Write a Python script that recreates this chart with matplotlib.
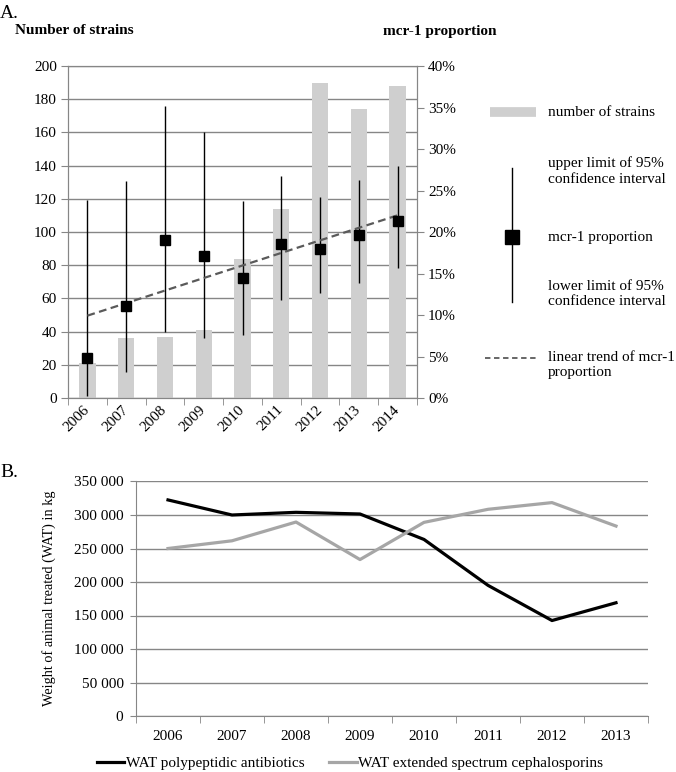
import numpy as np
import matplotlib
matplotlib.use("Agg")
import matplotlib.pyplot as plt
from matplotlib.ticker import FuncFormatter, FixedLocator
from matplotlib.transforms import ScaledTranslation

plt.rcParams['font.family'] = ['Liberation Serif', 'DejaVu Serif']
plt.rcParams['font.size'] = 11

# ---- Panel A data ----
years_a = ['2006', '2007', '2008', '2009', '2010', '2011', '2012', '2013', '2014']
strains = [21, 36, 37, 41, 84, 114, 190, 174, 188]
prop = [4.8, 11.1, 19.0, 17.1, 14.4, 18.5, 17.9, 19.6, 21.3]      # %
ci_upper = [23.8, 26.1, 35.2, 32.0, 23.7, 26.8, 24.2, 26.3, 27.9]  # %
ci_lower = [0.2, 3.1, 8.0, 7.2, 7.6, 11.8, 12.7, 13.9, 15.7]       # %

# ---- Panel B data ----
years_b = ['2006', '2007', '2008', '2009', '2010', '2011', '2012', '2013']
wat_poly = [322500, 300000, 304000, 301500, 263500, 195000, 142500, 169000]
wat_ceph = [250000, 261500, 289500, 233500, 289000, 308500, 318500, 283500]

W, H = 676, 772
fig = plt.figure(figsize=(W / 100, H / 100), dpi=100)

def fx(px):
    return px / W

def fy(py):
    return 1 - py / H

axis_gray = '#868686'
bar_gray = '#cfcfcf'

# ================= Panel A =================
ax1 = fig.add_axes([fx(68), fy(398), fx(417 - 68), (398 - 66) / H])
xa = np.arange(len(years_a))
ax1.bar(xa, strains, width=0.42, color=bar_gray, zorder=2)
ax1.set_xlim(-0.5, len(years_a) - 0.5)
ax1.set_ylim(0, 200)
ax1.set_yticks(np.arange(0, 201, 20))
ax1.set_axisbelow(True)
ax1.yaxis.grid(True, color=axis_gray, lw=1)
ax1.set_xticks(xa)
ax1.set_xticklabels(years_a, rotation=45, ha='right', va='center', rotation_mode='anchor')
offset = ScaledTranslation(3 / 100, 0, fig.dpi_scale_trans)
for lab in ax1.get_xticklabels():
    lab.set_transform(lab.get_transform() + offset)
ax1.xaxis.set_minor_locator(FixedLocator(np.arange(-0.5, len(years_a), 1.0)))
ax1.tick_params(axis='x', which='major', length=0, pad=7)
ax1.tick_params(axis='x', which='minor', length=5, color=axis_gray, direction='out')
ax1.tick_params(axis='y', length=5, color=axis_gray, direction='out', pad=3)
for s in ['left', 'right', 'bottom', 'top']:
    ax1.spines[s].set_color(axis_gray)

ax2 = ax1.twinx()
ax2.set_ylim(0, 40)
ax2.set_yticks(np.arange(0, 41, 5))
ax2.yaxis.set_major_formatter(FuncFormatter(lambda v, p: f"{int(v)}%"))
ax2.tick_params(axis='y', length=5, color=axis_gray, direction='out', pad=3)
for s in ['left', 'right', 'bottom', 'top']:
    ax2.spines[s].set_color(axis_gray)
ax2.vlines(xa, ci_lower, ci_upper, color='black', lw=1.0, zorder=3)
ax2.plot(xa, prop, linestyle='none', marker='s', markersize=6.5, color='black', zorder=4)
coef = np.polyfit(xa, prop, 1)
ax2.plot(xa, np.polyval(coef, xa), linestyle=(0, (3.5, 2)), color='#5a5a5a', lw=1.6, zorder=3)

fig.text(fx(0), fy(14), 'A.', fontsize=14, va='center', ha='left')
fig.text(fx(15), fy(31), 'Number of strains', fontsize=11, fontweight='bold', va='center', ha='left')
fig.text(fx(383), fy(31), 'mcr-1 proportion', fontsize=11, fontweight='bold', va='center', ha='left')

# custom legend for panel A (pixel coordinates overlay)
lg = fig.add_axes([0, 0, 1, 1], facecolor='none')
lg.set_xlim(0, W)
lg.set_ylim(H, 0)
lg.axis('off')
lg.plot([490, 536], [112, 112], color=bar_gray, lw=7, solid_capstyle='butt')
lg.text(548, 112, 'number of strains', va='center', ha='left', fontsize=11)
lg.plot([512, 512], [168, 302], color='black', lw=1.0)
lg.plot([512], [237], marker='s', markersize=9.5, color='black')
lg.text(548, 171, 'upper limit of 95%\nconfidence interval', va='center', ha='left', fontsize=11, linespacing=1.25)
lg.text(548, 237, 'mcr-1 proportion', va='center', ha='left', fontsize=11)
lg.text(548, 294, 'lower limit of 95%\nconfidence interval', va='center', ha='left', fontsize=11, linespacing=1.25)
lg.plot([485, 538], [358, 358], color='#5a5a5a', lw=1.3, linestyle=(0, (3, 2)))
lg.text(548, 365, 'linear trend of mcr-1\nproportion', va='center', ha='left', fontsize=11, linespacing=1.25)

# ================= Panel B =================
ax3 = fig.add_axes([fx(136), fy(716), fx(648 - 136), (716 - 481.5) / H])
xb = np.arange(len(years_b))
l1, = ax3.plot(xb, wat_poly, color='black', lw=2.3, label='WAT polypeptidic antibiotics')
l2, = ax3.plot(xb, wat_ceph, color='#a6a6a6', lw=2.3, label='WAT extended spectrum cephalosporins')
ax3.set_xlim(-0.5, len(years_b) - 0.5)
ax3.set_ylim(0, 350000)
ax3.set_yticks(np.arange(0, 350001, 50000))
ax3.yaxis.set_major_formatter(FuncFormatter(lambda v, p: f"{int(v):,}".replace(',', ' ')))
ax3.set_xticks(xb)
ax3.set_xticklabels(years_b)
ax3.xaxis.set_minor_locator(FixedLocator(np.arange(-0.5, len(years_b), 1.0)))
ax3.tick_params(axis='x', which='major', length=0, pad=10)
ax3.tick_params(axis='x', which='minor', length=5, color=axis_gray, direction='out')
ax3.tick_params(axis='y', length=4, color=axis_gray, direction='out', pad=5)
ax3.set_axisbelow(True)
ax3.yaxis.grid(True, color=axis_gray, lw=1)
ax3.spines['top'].set_visible(False)
ax3.spines['right'].set_visible(False)
ax3.spines['left'].set_color(axis_gray)
ax3.spines['bottom'].set_color(axis_gray)
ax3.set_ylabel('Weight of animal treated (WAT) in kg', fontsize=10.3, labelpad=13)

fig.text(fx(0), fy(473), 'B.', fontsize=14, va='center', ha='left')
fig.legend(handles=[l1, l2], loc='center', bbox_to_anchor=(fx(350), fy(763)), ncol=2,
           frameon=False, handlelength=1.8, handletextpad=0.1, columnspacing=1.6, fontsize=11)

fig.savefig('out.png', dpi=100)
